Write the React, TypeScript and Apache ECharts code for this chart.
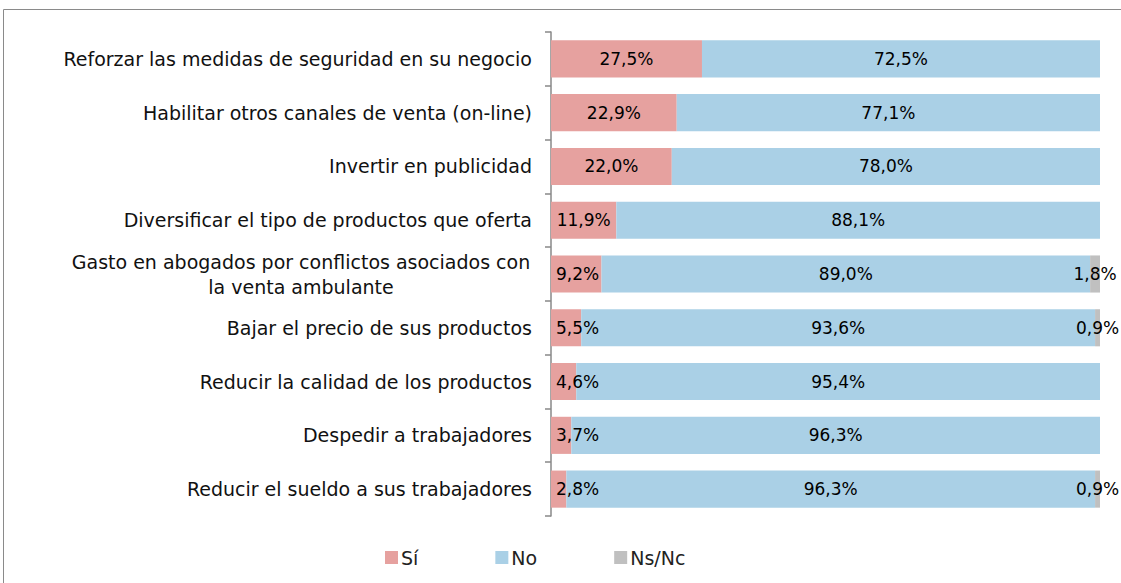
import React, { useEffect, useRef } from "react";
import * as echarts from "echarts";

const categories = [
  "Reforzar las medidas de seguridad en su negocio",
  "Habilitar otros canales de venta (on-line)",
  "Invertir en publicidad",
  "Diversificar el tipo de productos que oferta",
  "Gasto en abogados por conflictos asociados con\nla venta ambulante",
  "Bajar el precio de sus productos",
  "Reducir la calidad de los productos",
  "Despedir a trabajadores",
  "Reducir el sueldo a sus trabajadores",
];
const siValues = [27.5, 22.9, 22.0, 11.9, 9.2, 5.5, 4.6, 3.7, 2.8];
const noValues = [72.5, 77.1, 78.0, 88.1, 89.0, 93.6, 95.4, 96.3, 96.3];
const nsValues = [0, 0, 0, 0, 1.8, 0.9, 0, 0, 0.9];
const seriesNames = ["Sí", "No", "Ns/Nc"];

const FONT = "DejaVu Sans";
const fmt = (v: number) => (v > 0 ? v.toFixed(1).replace(".", ",") + "%" : "");

export default function App() {
  const ref = useRef<HTMLDivElement>(null);
  useEffect(() => {
    const chart = echarts.init(ref.current!, null, { renderer: "svg" });
    const labelBase = {
      show: true,
      color: "#000",
      fontFamily: FONT,
      fontSize: 17,
      formatter: (p: any) => fmt(p.value),
    };
    chart.setOption({
      animation: false,
      textStyle: { fontFamily: FONT },
      graphic: [
        {
          type: "rect",
          shape: { x: 3.5, y: 9.5, width: 1130, height: 590 },
          style: { fill: "none", stroke: "#8a8a8a", lineWidth: 1 },
          silent: true,
        },
      ],
      legend: {
        bottom: 11,
        left: 380,
        itemWidth: 13,
        itemHeight: 13,
        itemGap: 77,
        icon: "rect",
        textStyle: { fontFamily: FONT, fontSize: 19, color: "#222", padding: [0, 0, 0, -2] },
        data: seriesNames,
      },
      grid: { left: 551, top: 32, width: 549, height: 484, containLabel: false },
      xAxis: { type: "value", min: 0, max: 100, show: false },
      yAxis: {
        type: "category",
        inverse: true,
        data: categories,
        axisLine: { show: true, lineStyle: { color: "#888", width: 1.5 } },
        axisTick: { show: true, alignWithLabel: false, inside: false, length: 6, lineStyle: { color: "#888", width: 1.5 } },
        axisLabel: {
          margin: 19,
          color: "#111",
          fontFamily: FONT,
          fontSize: 19,
          formatter: (v: string) => {
            if (v.indexOf("\n") >= 0) {
              return v
                .split("\n")
                .map((l) => "{c|" + l + "}")
                .join("\n");
            }
            return v;
          },
          rich: {
            c: { width: 462, align: "center", fontFamily: FONT, fontSize: 19, color: "#111", lineHeight: 25 },
          },
        },
      },
      series: [
        {
          name: seriesNames[0],
          type: "bar",
          stack: "t",
          barCategoryGap: "31%",
          itemStyle: { color: "#E6A19F" },
          data: siValues.map((v) => ({
            value: v,
            label: v < 10 ? { position: "insideLeft", distance: 5 } : { position: "inside" },
          })),
          label: labelBase,
        },
        {
          name: seriesNames[1],
          type: "bar",
          stack: "t",
          itemStyle: { color: "#AAD0E6" },
          data: noValues,
          label: { ...labelBase, position: "inside" },
        },
        {
          name: seriesNames[2],
          type: "bar",
          stack: "t",
          itemStyle: { color: "#C0C0C0" },
          data: nsValues,
          label: { ...labelBase, position: "inside" },
        },
      ],
    });
    return () => chart.dispose();
  }, []);
  return (
    <div
      ref={ref}
      style={{ position: "fixed", left: 0, top: 0, width: 1121, height: 583, background: "#fff" }}
    />
  );
}
